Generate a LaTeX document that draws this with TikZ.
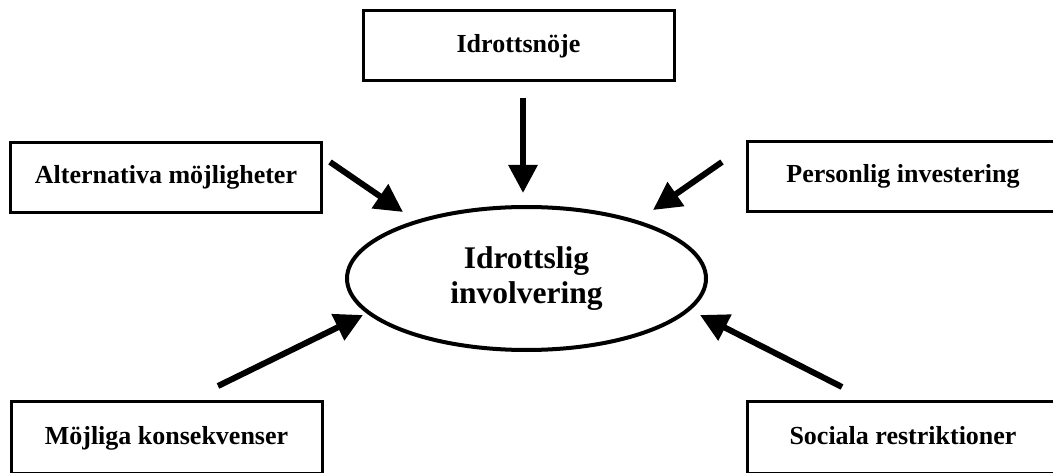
\documentclass[tikz,border=0pt]{standalone}
\usepackage{fontspec}
\setmainfont{Liberation Serif}
\usetikzlibrary{arrows.meta,shapes.geometric}
\begin{document}
\begin{tikzpicture}[x=1pt,y=-1pt,
  box/.style={draw, line width=3pt, minimum width=311pt, minimum height=70pt,
    inner sep=0pt, text height=18pt, text depth=5pt,
    font=\fontsize{26}{30}\selectfont\bfseries},
  core/.style={draw, ellipse, line width=4pt, minimum width=359pt, minimum height=143pt,
    inner sep=0pt, align=center, font=\fontsize{31.5}{35}\selectfont\bfseries},
  arr/.style={line width=6pt, -{Triangle[length=28pt,width=28pt]}},
]
\useasboundingbox (0,0) rectangle (1053,473);
\clip (0,0) rectangle (1053,473);

% factor boxes
\node[box] (nojen) at (518.5,46)  {Idrottsnöje};
\node[box] (alt)   at (166,177.5) {Alternativa möjligheter};
\node[box] (inv)   at (903,176.5) {Personlig investering};
\node[box, minimum height=72pt] (kons)  at (166.5,437.5) {Möjliga konsekvenser};
\node[box, minimum height=72pt] (restr) at (903,437.5) {Sociala restriktioner};

% central concept
\node[core] (mid) at (526.5,278.5) {Idrottslig\\involvering};

% arrow ends
\coordinate (s1) at (523,98);  \coordinate (e1) at (523,193);
\coordinate (s2) at (330,162); \coordinate (e2) at (403,212);
\coordinate (s3) at (722,162); \coordinate (e3) at (653,210);
\coordinate (s4) at (218,386); \coordinate (e4) at (363,315);
\coordinate (s5) at (842,387); \coordinate (e5) at (700,315);

\draw[arr] (s1) -- (e1);
\draw[arr] (s2) -- (e2);
\draw[arr] (s3) -- (e3);
\draw[arr] (s4) -- (e4);
\draw[arr] (s5) -- (e5);
\end{tikzpicture}
\end{document}
